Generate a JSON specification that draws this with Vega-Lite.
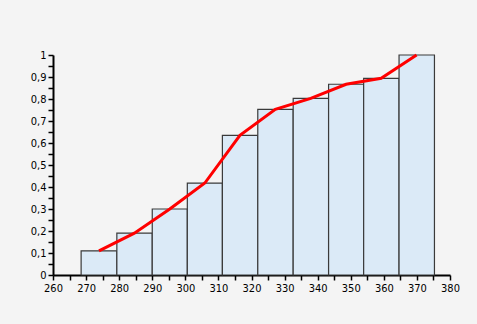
{
  "$schema": "https://vega.github.io/schema/vega-lite/v6.json",
  "width": 397,
  "height": 220,
  "autosize": {"type": "none"},
  "padding": {"left": 53, "top": 55, "right": 27, "bottom": 49},
  "background": "#f4f4f4",
  "config": {
    "view": {"stroke": null},
    "axis": {
      "labelFont": "Liberation Sans Narrow, DejaVu Sans Condensed, Roboto Condensed, sans-serif",
      "labelFontSize": 11,
      "labelColor": "#000000",
      "labelOverlap": false,
      "domainColor": "#000000",
      "domainWidth": 2,
      "tickColor": "#000000",
      "tickWidth": 1.5,
      "tickSize": 5,
      "grid": false,
      "title": null,
      "labelFlush": false,
      "labelPadding": 2
    }
  },
  "data": {
    "values": [
      {"lo": 268.5, "hi": 279.3, "mid": 273.9, "p": 0.11},
      {"lo": 279.3, "hi": 290.0, "mid": 284.6, "p": 0.19},
      {"lo": 290.0, "hi": 300.6, "mid": 295.3, "p": 0.30},
      {"lo": 300.6, "hi": 311.2, "mid": 305.9, "p": 0.418},
      {"lo": 311.2, "hi": 321.9, "mid": 316.5, "p": 0.635},
      {"lo": 321.9, "hi": 332.6, "mid": 327.2, "p": 0.753},
      {"lo": 332.6, "hi": 343.3, "mid": 337.9, "p": 0.803},
      {"lo": 343.3, "hi": 353.9, "mid": 348.6, "p": 0.867},
      {"lo": 353.9, "hi": 364.6, "mid": 359.2, "p": 0.894},
      {"lo": 364.6, "hi": 375.3, "mid": 369.9, "p": 1.0}
    ]
  },
  "layer": [
    {
      "mark": {"type": "rect", "fill": "#dbeaf7", "stroke": "#3a3a3a", "strokeWidth": 1.2},
      "encoding": {
        "x": {
          "field": "lo", "type": "quantitative",
          "scale": {"domain": [260, 380], "nice": false, "zero": false},
          "axis": {
            "values": [260,265,270,275,280,285,290,295,300,305,310,315,320,325,330,335,340,345,350,355,360,365,370,375,380],
            "labelExpr": "datum.value % 10 == 0 ? datum.label : ''"
          }
        },
        "x2": {"field": "hi"},
        "y": {
          "field": "p", "type": "quantitative",
          "scale": {"domain": [0, 1], "nice": false},
          "axis": {
            "values": [0,0.05,0.1,0.15,0.2,0.25,0.3,0.35,0.4,0.45,0.5,0.55,0.6,0.65,0.7,0.75,0.8,0.85,0.9,0.95,1],
            "labelExpr": "round(datum.value*100) % 10 == 0 ? replace(format(datum.value, '~g'), '.', ',') : ''"
          }
        },
        "y2": {"datum": 0}
      }
    },
    {
      "mark": {"type": "line", "color": "#ff0000", "strokeWidth": 3},
      "encoding": {
        "x": {
          "field": "mid", "type": "quantitative",
          "axis": {
            "values": [260,265,270,275,280,285,290,295,300,305,310,315,320,325,330,335,340,345,350,355,360,365,370,375,380],
            "labelExpr": "datum.value % 10 == 0 ? datum.label : ''"
          }
        },
        "y": {
          "field": "p", "type": "quantitative",
          "axis": {
            "values": [0,0.05,0.1,0.15,0.2,0.25,0.3,0.35,0.4,0.45,0.5,0.55,0.6,0.65,0.7,0.75,0.8,0.85,0.9,0.95,1],
            "labelExpr": "round(datum.value*100) % 10 == 0 ? replace(format(datum.value, '~g'), '.', ',') : ''"
          }
        }
      }
    }
  ]
}
